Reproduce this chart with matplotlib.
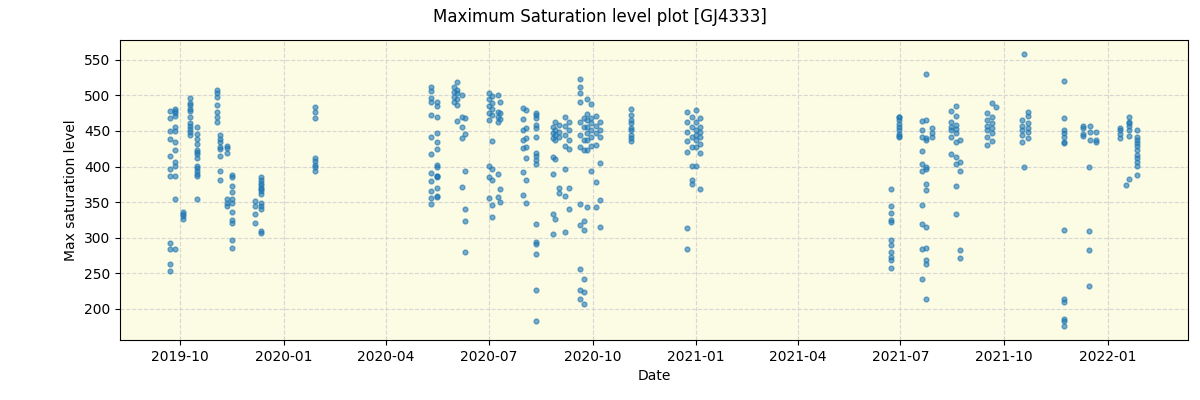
import matplotlib
matplotlib.use("Agg")
import matplotlib.pyplot as plt
import matplotlib.dates as mdates
import pandas as pd

# observation nights and the max saturation levels measured on each
nights = [
    "2019-09-22", "2019-09-27", "2019-10-04", "2019-10-10", "2019-10-16",
    "2019-11-03", "2019-11-06", "2019-11-12", "2019-11-16", "2019-12-07",
    "2019-12-12", "2020-01-29", "2020-05-11", "2020-05-16", "2020-05-31",
    "2020-06-03", "2020-06-07", "2020-06-10", "2020-07-01", "2020-07-04",
    "2020-07-09", "2020-07-11", "2020-07-31", "2020-08-03", "2020-08-12",
    "2020-08-27", "2020-08-29", "2020-09-01", "2020-09-07", "2020-09-10",
    "2020-09-20", "2020-09-23", "2020-09-26", "2020-09-30", "2020-10-04",
    "2020-10-08", "2020-11-04", "2020-12-24", "2020-12-28", "2021-01-01",
    "2021-01-04", "2021-06-23", "2021-06-30", "2021-07-20", "2021-07-24",
    "2021-07-29", "2021-08-15", "2021-08-19", "2021-08-23", "2021-09-16",
    "2021-09-20", "2021-09-24", "2021-10-17", "2021-10-19", "2021-10-22",
    "2021-11-23", "2021-12-10", "2021-12-15", "2021-12-16", "2021-12-21",
    "2022-01-12", "2022-01-17", "2022-01-20", "2022-01-27",
]
levels = [
    [478, 468, 450, 439, 415, 397, 387, 293, 284, 263, 253],
    [481, 478, 475, 471, 455, 450, 434, 423, 407, 401, 387, 354, 284],
    [336, 333, 331, 326],
    [497, 490, 486, 481, 478, 469, 461, 457, 453, 448, 445],
    [455, 446, 439, 432, 423, 420, 417, 412, 401, 398, 394, 389, 387, 354],
    [508, 503, 498, 486, 477, 469, 462],
    [445, 439, 434, 427, 424, 415, 394, 381],
    [429, 426, 419, 354, 349, 345],
    [388, 385, 373, 364, 354, 349, 336, 325, 321, 296, 285],
    [352, 345, 333, 321],
    [385, 381, 377, 374, 370, 368, 365, 361, 349, 345, 340, 310, 306],
    [484, 477, 468, 412, 408, 402, 399, 394],
    [512, 506, 496, 491, 473, 441, 418, 391, 379, 365, 356, 348],
    [491, 485, 469, 447, 434, 424, 402, 399, 387, 385, 386, 370, 358, 357],
    [512, 505, 498, 491],
    [519, 508, 503, 495, 487, 464],
    [501, 469, 455, 440, 371],
    [468, 446, 394, 340, 323, 280],
    [503, 495, 485, 476, 466, 401, 385, 356],
    [499, 490, 481, 473, 436, 397, 381, 346, 329],
    [501, 477, 470, 462, 389, 357],
    [491, 475, 467, 368, 350],
    [482, 467, 451, 438, 426, 392, 360],
    [480, 454, 440, 428, 412, 381, 349],
    [476, 473, 468, 459, 454, 442, 419, 415, 409, 404, 319, 294, 291, 277, 227, 183],
    [455, 447, 440, 414, 389, 333, 305],
    [463, 452, 445, 438, 411, 326],
    [459, 449, 442, 370, 363],
    [470, 457, 445, 429, 396, 359, 308],
    [463, 452, 438, 424, 370, 340],
    [523, 512, 504, 491, 463, 445, 428, 348, 318, 256, 227, 213],
    [468, 455, 438, 423, 324, 311, 242, 223, 206],
    [495, 474, 466, 455, 447, 438, 423, 343],
    [488, 468, 461, 452, 442, 429, 394],
    [471, 457, 447, 430, 378, 343],
    [463, 452, 442, 405, 353, 315],
    [481, 473, 466, 461, 454, 451, 445, 440, 436],
    [477, 462, 448, 436, 420, 313, 284],
    [469, 455, 442, 428, 401, 381, 375],
    [480, 463, 452, 445, 438, 427, 401],
    [468, 456, 448, 441, 432, 419, 368],
    [368, 344, 334, 325, 322, 297, 289, 280, 273, 269, 257],
    [470, 469, 466, 460, 455, 451, 446, 443, 442],
    [464, 452, 441, 422, 404, 394, 346, 319, 284, 242],
    [530, 465, 440, 437, 399, 396, 376, 367, 315, 285, 269, 263, 213],
    [454, 447, 441],
    [478, 463, 455, 451, 442, 418],
    [485, 471, 459, 453, 447, 434, 413, 404, 373, 333],
    [438, 407, 394, 283, 271],
    [475, 465, 457, 451, 442, 430],
    [489, 469, 461, 454, 447, 436],
    [484],
    [466, 457, 452, 445, 435],
    [558, 399],
    [477, 471, 461, 454, 449, 440],
    [520, 468, 452, 447, 441, 435, 433, 311, 214, 210, 185, 183, 176],
    [457, 454, 446, 443],
    [399, 310, 282, 232],
    [457, 449, 437],
    [448, 437, 435],
    [454, 452, 446, 440],
    [374],
    [470, 463, 461, 457, 452, 443, 382],
    [452, 442, 437, 433, 429, 423, 416, 412, 406, 401, 388],
]

dates = []
values = []
for night, vals in zip(nights, levels):
    dates += [pd.Timestamp(night)] * len(vals)
    values += vals

fig, ax = plt.subplots(figsize=(12, 4), dpi=100)
fig.subplots_adjust(left=0.1, right=0.99, top=0.9, bottom=0.15)

ax.set_facecolor("#fcfbe3")
ax.scatter(dates, values, s=12, color="tab:blue", alpha=0.6, zorder=3)

ax.set_xlim(pd.Timestamp("2019-08-09"), pd.Timestamp("2022-03-13"))
ax.set_ylim(156, 578)
ax.xaxis.set_major_locator(mdates.MonthLocator(bymonth=[1, 4, 7, 10]))
ax.xaxis.set_major_formatter(mdates.DateFormatter("%Y-%m"))

ax.grid(True, linestyle="--", color="lightgray", alpha=0.9)
ax.set_axisbelow(True)
ax.set_xlabel("Date")
ax.set_ylabel("Max saturation level")
fig.suptitle("Maximum Saturation level plot [GJ4333]")

fig.savefig("out.png")
